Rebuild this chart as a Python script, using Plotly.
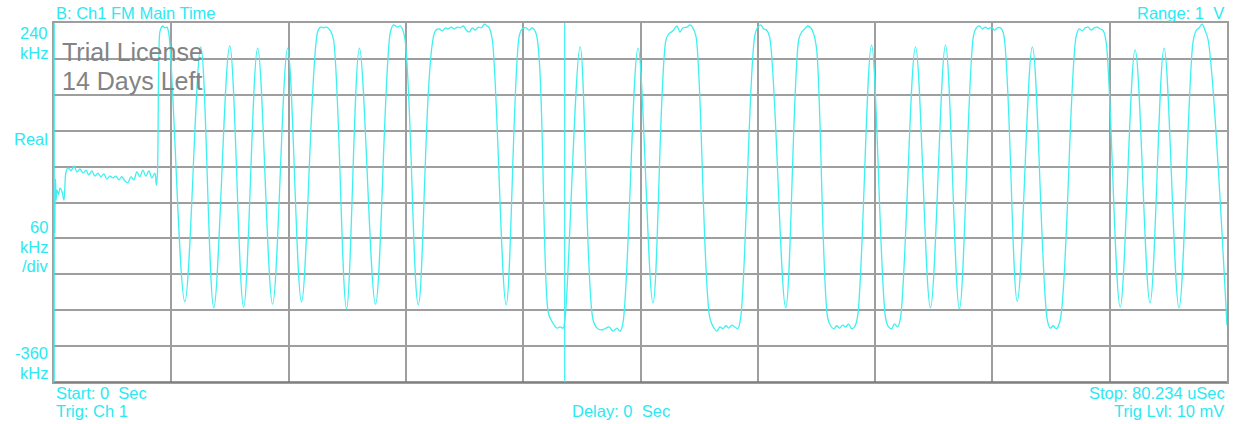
import plotly.graph_objects as go

# FM-demodulated trace (time in microseconds, frequency deviation in kHz)
time_us = [
    0.06, 0.10, 0.14, 0.20, 0.31, 0.41, 0.55, 0.68, 0.82, 0.96,
    1.16, 1.37, 1.57, 1.78, 1.98, 2.19, 2.39, 2.59, 2.80, 3.00,
    3.21, 3.41, 3.62, 3.82, 4.03, 4.23, 4.44, 4.64, 4.85, 5.05,
    5.26, 5.46, 5.67, 5.87, 6.08, 6.28, 6.49, 6.69, 6.90, 7.00,
    7.07, 7.17, 7.27, 7.44, 7.58, 7.72, 7.85,
    8.95, 10.04, 10.93, 12.02, 12.97, 13.93, 14.95, 15.98, 16.93,
    18.03, 18.23, 18.44, 18.64, 18.91, 19.12,
    20.01, 20.89, 21.99,
    23.01, 23.22, 23.49, 23.69, 23.97,
    24.92,
    26.08, 26.36, 26.56, 26.77, 26.97, 27.18, 27.38, 27.59, 27.79, 28.00,
    28.20, 28.41, 28.61, 28.82, 29.02, 29.23, 29.43, 29.63, 29.77, 29.98,
    30.93,
    31.82, 32.02, 32.30, 32.50, 32.71, 32.98,
    33.80, 34.00, 34.21, 34.41, 34.62, 34.82, 34.96,
    35.99,
    36.87, 37.15, 37.42, 37.69, 37.97, 38.24, 38.51, 38.72, 38.92,
    39.95, 40.97,
    41.86, 42.06, 42.34, 42.61, 42.81, 43.02, 43.29, 43.50, 43.70, 43.91,
    44.86, 45.14, 45.34, 45.55, 45.75, 45.96, 46.16, 46.36, 46.57, 46.77, 46.98,
    47.93, 48.14, 48.34, 48.55, 48.75, 48.96,
    50.05,
    50.94, 51.14, 51.35, 51.55, 51.76, 51.96, 52.17,
    52.92, 53.12, 53.33, 53.53, 53.74, 53.94, 54.15, 54.35, 54.56, 54.76, 54.97,
    55.92,
    56.88, 57.08, 57.29, 57.49, 57.70, 57.90,
    58.93, 59.95, 60.98, 61.93,
    62.89, 63.09, 63.30, 63.50, 63.71, 63.91, 64.12, 64.32, 64.53, 64.73, 64.94,
    65.89, 66.92,
    67.94, 68.15, 68.35, 68.56, 68.83,
    69.92, 70.13, 70.33, 70.54, 70.74, 70.95, 71.15, 71.36, 71.56, 71.77, 71.97,
    72.93, 73.95, 74.97, 75.93, 76.95,
    77.91, 78.12, 78.32, 78.53, 78.73, 78.94,
    80.23,
]

freq_khz = [
    -111, -20, -56, -39, -47, -36, -42, -56, -9, -2,
    -7, 1, -9, -4, -11, -6, -14, -7, -16, -11,
    -17, -12, -21, -16, -19, -16, -22, -17, -24, -27,
    -17, -22, -9, -17, -6, -16, -7, -19, -11, -31,
    -14, 178, 228, 235, 232, 233, 223,
    -226, 200, -236, 202, -235, 198, -230, 198, -226,
    225, 233, 232, 233, 227, 212,
    -238, 198, -230,
    225, 237, 233, 235, 218,
    -231,
    227, 230, 227, 232, 230, 233, 230, 233, 232, 235,
    228, 225, 232, 228, 233, 232, 238, 235, 232, 212,
    -231,
    218, 230, 232, 228, 232, 222,
    -243, -256, -265, -270, -268, -270, -253,
    200,
    -256, -270, -273, -271, -268, -275, -270, -275, -261,
    198, -228,
    212, 222, 227, 235, 225, 232, 233, 237, 232, 218,
    -253, -270, -275, -268, -271, -266, -270, -265, -268, -271, -250,
    218, 233, 237, 230, 228, 215,
    -236,
    212, 225, 230, 235, 232, 222, 195,
    -253, -266, -271, -266, -270, -265, -268, -263, -271, -268, -250,
    203,
    -253, -268, -271, -263, -268, -253,
    200, -236, 203, -238,
    218, 232, 235, 230, 233, 230, 233, 228, 232, 232, 223,
    -225, 200,
    -256, -270, -266, -271, -256,
    218, 230, 227, 232, 233, 228, 232, 233, 230, 227, 208,
    -235, 195, -228, 198, -236,
    208, 227, 232, 238, 228, 212,
    -265,
]

# Display scale: 10 x 10 divisions
span_us = 80.234
top_khz = 240
per_div_khz = 60
n_div = 10
marker_time_us = 34.93

CYAN = "#2be9f2"
TRACE = "#3ff0f0"
GRID = "#9e9e9e"
FONT = "Liberation Sans, Arial, sans-serif"

fig = go.Figure()
fig.add_trace(go.Scatter(
    x=time_us, y=freq_khz, mode="lines",
    line=dict(color=TRACE, width=1.3, shape="spline", smoothing=1.0),
    hoverinfo="skip", showlegend=False,
))

bottom_khz = top_khz - per_div_khz * n_div
fig.update_xaxes(
    range=[0, span_us], tick0=0, dtick=span_us / n_div,
    showgrid=True, gridcolor=GRID, gridwidth=1.6,
    showticklabels=False, ticks="", zeroline=False,
    showline=True, mirror=True, linecolor=GRID, linewidth=1.6,
)
fig.update_yaxes(
    range=[bottom_khz, top_khz], tick0=0, dtick=per_div_khz,
    showgrid=True, gridcolor=GRID, gridwidth=1.6,
    showticklabels=False, ticks="", zeroline=False,
    showline=True, mirror=True, linecolor=GRID, linewidth=1.6,
)

# bottom frame edge is darker, left edge is cyan
fig.add_shape(type="line", xref="paper", yref="paper", x0=0, x1=1, y0=0, y1=0,
              line=dict(color="#777777", width=1.6))
fig.add_shape(type="line", xref="paper", yref="paper", x0=0, x1=0, y0=0, y1=1,
              line=dict(color=CYAN, width=1.5))
# time marker
fig.add_shape(type="line", xref="x", yref="paper", x0=marker_time_us, x1=marker_time_us,
              y0=0, y1=1, line=dict(color=TRACE, width=1.2))

def label(text, x, y, xanchor, color=CYAN, size=16.5):
    fig.add_annotation(text=text, x=x, y=y, xref="paper", yref="paper",
                       xanchor=xanchor, yanchor="middle", showarrow=False,
                       font=dict(family=FONT, size=size, color=color))

NB = "\u00a0"
label("B: Ch1 FM Main Time", 0.0, 1.0292, "left")
label(f"Range: 1{NB} V", 0.9991, 1.0292, "right")
label("240", -0.0035, 0.9735, "right")
label("kHz", -0.0035, 0.9178, "right")
label("Real", -0.0035, 0.6769, "right")
label("60", -0.0035, 0.4318, "right")
label("kHz", -0.0035, 0.3774, "right")
label("/div", -0.0035, 0.3231, "right")
label("-360", -0.0035, 0.0808, "right")
label("kHz", -0.0035, 0.0251, "right")
label(f"Start: 0{NB} Sec", 0.0, -0.0306, "left")
label("Trig: Ch 1", 0.0, -0.0808, "left")
label(f"Delay: 0{NB} Sec", 0.4832, -0.0808, "center")
label("Stop: 80.234 uSec", 0.9997, -0.0306, "right")
label("Trig Lvl: 10 mV", 0.9994, -0.0808, "right")
label("Trial License", 0.0052, 0.9192, "left", color="#838383", size=25)
label("14 Days Left", 0.0052, 0.8384, "left", color="#838383", size=25)

fig.update_layout(
    width=1235, height=424,
    margin=dict(l=54, r=6, t=23, b=42),
    paper_bgcolor="white", plot_bgcolor="white",
    showlegend=False,
)

fig.write_html("out.html")
